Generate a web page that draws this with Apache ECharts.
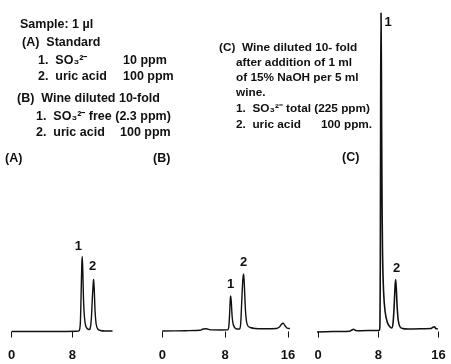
<!DOCTYPE html>
<html><head><meta charset="utf-8">
<script src="https://cdn.jsdelivr.net/npm/echarts@6/dist/echarts.min.js"></script>
<style>html,body{margin:0;padding:0;background:#fff}#c{width:451px;height:364px}</style>
</head><body><div id="c"></div>
<script>
// ---- data (retention time in min, detector signal in arbitrary units) ----
const tickValuesA = [0, 8];
const tickValuesB = [0, 8, 16];
const tickValuesC = [0, 8, 16];

const traceA = [[0,0],[5,0],[8.5,0.2],[8.9,0.8],[9.05,8],[9.15,35],[9.25,68],[9.31,75],[9.38,60],[9.48,30],[9.6,14],[9.75,6],[9.95,3],[10.2,2],[10.35,3],[10.5,12],[10.65,35],[10.78,51],[10.82,52],[10.9,40],[11.0,20],[11.15,7],[11.35,2.5],[11.7,1],[12.3,0.5],[13.3,0.5]];
const traceB = [[0,0.5],[3,0.8],[4.8,1.2],[5.2,2.5],[5.6,2.8],[6.2,1.6],[7.5,1.5],[8.3,1.6],[8.45,4],[8.55,15],[8.65,32],[8.7,35.5],[8.78,30],[8.88,16],[9.0,8],[9.2,4],[9.5,2.5],[9.85,2.5],[9.98,8],[10.1,28],[10.25,52],[10.36,57.5],[10.45,45],[10.58,22],[10.72,10],[10.9,5.5],[11.2,4],[11.8,3],[13,2.8],[14.5,3],[14.9,4.5],[15.2,7.5],[15.39,8.2],[15.6,6],[15.85,3.5],[16.25,3]];
const traceC = [[-0.15,-0.5],[2,0],[4.2,0.3],[4.5,1.5],[4.7,2.2],[5.0,1],[5.5,0.8],[7,1],[8.15,1.2],[8.22,10],[8.27,80],[8.32,250],[8.36,318.5],[8.42,250],[8.48,150],[8.56,80],[8.7,40],[8.9,20],[9.2,9],[9.5,5],[9.77,3.5],[9.95,8],[10.1,25],[10.22,45],[10.3,52],[10.38,45],[10.5,25],[10.65,11],[10.85,5],[11.2,3],[12,2.5],[14,2.8],[15.0,3],[15.25,4.2],[15.42,4.8],[15.65,3],[15.9,2.5]];

const peakNames = ['1', '2'];
const peaksA = [[9.31, 75], [10.82, 52]];
const peaksB = [[8.7, 35.5], [10.36, 57.5]];
const peaksC = [[8.36, 318.5], [10.3, 52]];

// ---- layout / style ----
const FONT = '"Liberation Sans", Arial, sans-serif';
const INK = '#111';
const gridTop = 10, gridBottomY = 338, H = 364;
const yMin = -6.5, yMax = 321.5;
const panels = [
  {left: 11.7, width: 121.3, trace: traceA, peaks: peaksA, ticks: tickValuesA, offs: [[-4,-10],[-1,-13]], lw: 1.4},
  {left: 162.3, width: 125.7, trace: traceB, peaks: peaksB, ticks: tickValuesB, offs: [[0,-12],[0,-12]], lw: 1.4},
  {left: 318, width: 120.6, trace: traceC, peaks: peaksC, ticks: tickValuesC, offs: [[7,9],[1,-11]], lw: 1.6}
];

const grid = [], xAxis = [], yAxis = [], series = [];
panels.forEach((p, i) => {
  grid.push({left: p.left, width: p.width, top: gridTop, bottom: H - gridBottomY});
  xAxis.push({
    type: 'value', gridIndex: i, min: 0, max: 16, interval: 8,
    axisLine: {show: false}, splitLine: {show: false},
    axisTick: {show: true, length: 6, customValues: p.ticks, lineStyle: {color: INK, width: 1}},
    axisLabel: {show: true, margin: 11, customValues: p.ticks, color: INK, fontFamily: FONT, fontSize: 13, fontWeight: 'bold'}
  });
  yAxis.push({type: 'value', gridIndex: i, min: yMin, max: yMax, show: false, splitLine: {show: false}});
  series.push({
    type: 'line', xAxisIndex: i, yAxisIndex: i, data: p.trace, showSymbol: false,
    smooth: 0.25, lineStyle: {color: INK, width: p.lw}, silent: true, animation: false
  });
  series.push({
    type: 'scatter', xAxisIndex: i, yAxisIndex: i, symbolSize: 0, animation: false, silent: true,
    itemStyle: {color: INK, opacity: 1},
    data: p.peaks.map((pk, j) => ({
      value: pk, name: peakNames[j],
      label: {show: true, position: 'inside', offset: p.offs[j], formatter: '{b}',
        color: INK, fontFamily: FONT, fontSize: 13, fontWeight: 'bold'}
    }))
  });
});

const txt = (x, y, s, size) => ({type: 'text', x: x, y: y,
  style: {text: s, fill: INK, font: 'bold ' + (size || 12.5) + 'px ' + FONT, textVerticalAlign: 'middle', textAlign: 'left'}});

const graphic = [
  txt(20, 25, 'Sample: 1 µl'),
  txt(22, 43, '(A)  Standard'),
  txt(38, 61, '1.  SO₃²⁻'), txt(123, 61, '10 ppm'),
  txt(38, 77, '2.  uric acid'), txt(123, 77, '100 ppm'),
  txt(17, 99, '(B)  Wine diluted 10-fold'),
  txt(36, 117, '1.  SO₃²⁻ free (2.3 ppm)'),
  txt(36, 133, '2.  uric acid'), txt(120, 133, '100 ppm'),
  txt(5, 159, '(A)'),
  txt(153, 159, '(B)'),
  txt(219, 48, '(C)  Wine diluted 10- fold', 11.8),
  txt(236, 63, 'after addition of 1 ml', 11.8),
  txt(236, 78, 'of 15% NaOH per 5 ml', 11.8),
  txt(236, 93, 'wine.', 11.8),
  txt(236, 109, '1.  SO₃²⁻ total (225 ppm)', 11.8),
  txt(236, 125, '2.  uric acid', 11.8), txt(321, 125, '100 ppm.', 11.8),
  txt(342, 158, '(C)')
];

const chart = echarts.init(document.getElementById('c'), null, {renderer: 'canvas'});
chart.setOption({animation: false, grid, xAxis, yAxis, series, graphic});
</script></body></html>
